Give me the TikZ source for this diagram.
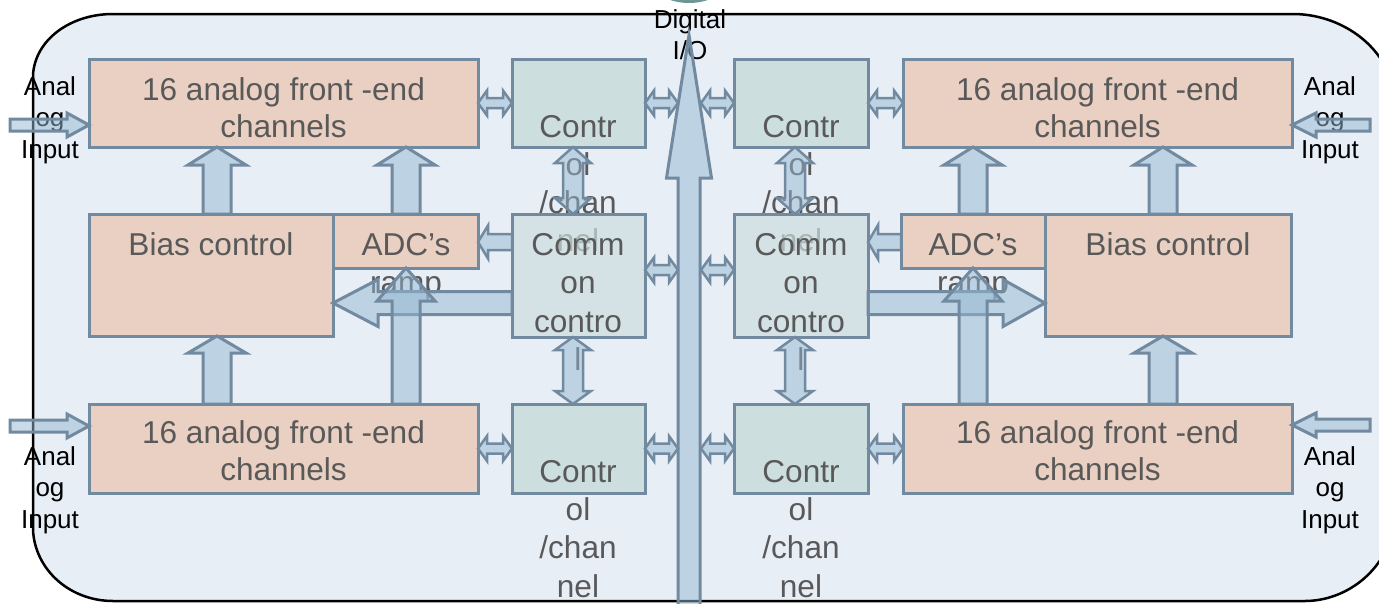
\documentclass[tikz,border=0pt]{standalone}
\usepackage{fontspec}
\setmainfont{Liberation Sans}
\usetikzlibrary{calc}
\definecolor{bgc}{RGB}{232,238,246}
\definecolor{edgec}{RGB}{114,138,160}
\definecolor{afec}{RGB}{233,208,194}
\definecolor{ctrlc}{RGB}{204,222,222}
\definecolor{arrc}{RGB}{147,183,209}
\definecolor{txtc}{RGB}{89,89,89}
\definecolor{dotc}{RGB}{110,150,150}
\tikzset{
 box/.style={draw=edgec, line width=3pt, anchor=north west, inner sep=0pt, outer sep=0pt},
 afe/.style={box, fill=afec},
 ctrl/.style={box, fill=ctrlc},
 btxt/.style={anchor=base, inner sep=0pt, text=txtc, font=\fontsize{31.6}{38}\selectfont},
 lbl/.style={anchor=base, inner sep=0pt, text=black, font=\fontsize{26}{31}\selectfont},
 barrow/.style={draw=edgec, line width=3pt, fill=arrc, fill opacity=0.5, line join=miter},
 sarrow/.style={barrow, line width=2.5pt},
}
% single block arrow: [opts]{tail}{tip}{shaft half}{head half}{head length}
\newcommand\blockarrow[6][]{%
 \coordinate (qT) at (#2); \coordinate (qH) at (#3);
 \coordinate (qC) at ($(qH)!#6!(qT)$);
 \draw[barrow,#1] ($(qT)!#4!90:(qH)$) -- ($(qC)!#4!90:(qH)$) -- ($(qC)!#5!90:(qH)$) -- (qH)
   -- ($(qC)!#5!-90:(qH)$) -- ($(qC)!#4!-90:(qH)$) -- ($(qT)!#4!-90:(qH)$) -- cycle;}
% double block arrow
\newcommand\dblockarrow[6][]{%
 \coordinate (qT) at (#2); \coordinate (qH) at (#3);
 \coordinate (qC) at ($(qH)!#6!(qT)$);
 \coordinate (qD) at ($(qT)!#6!(qH)$);
 \draw[sarrow,#1] (qT) -- ($(qD)!#5!90:(qH)$) -- ($(qD)!#4!90:(qH)$) -- ($(qC)!#4!90:(qH)$)
   -- ($(qC)!#5!90:(qH)$) -- (qH) -- ($(qC)!#5!-90:(qH)$) -- ($(qC)!#4!-90:(qH)$)
   -- ($(qD)!#4!-90:(qH)$) -- ($(qD)!#5!-90:(qH)$) -- cycle;}
\begin{document}
\begin{tikzpicture}[x=1pt,y=-1pt]
\useasboundingbox (0,0) rectangle (1379,603);
% container
\draw[black, line width=2.5pt, fill=bgc]
 (113,14) -- (1293,14) .. controls (1340,14) and (1386,45) .. (1394,92)
 -- (1394,525) .. controls (1386,572) and (1345,601) .. (1305,601)
 -- (113,601) .. controls (70,601) and (35,570) .. (33,530)
 -- (33,75) .. controls (35,40) and (70,14) .. (113,14) -- cycle;
\fill[dotc] (689,-57) circle (60);
% top control boxes and their text
\node[ctrl, minimum width=133pt, minimum height=88pt] (ctlTL) at (512,59) {};
\node[ctrl, minimum width=134pt, minimum height=88pt] (ctlTR) at (734,59) {};
\foreach \cx/\nm in {578/L,801/R}{
 \node[btxt] (ctT\nm1) at (\cx,137) {Contr};
 \node[btxt] (ctT\nm2) at (\cx,175) {ol};
 \node[btxt] (ctT\nm3) at (\cx,213) {/chan};
 \node[btxt] (ctT\nm4) at (\cx,251) {nel};
}
% common control
\node[ctrl, fill opacity=0.7, minimum width=133pt, minimum height=123pt] (comL) at (512,214) {};
\node[ctrl, fill opacity=0.7, minimum width=134pt, minimum height=123pt] (comR) at (734,214) {};
\foreach \cx/\nm in {578/L,801/R}{
 \node[btxt] (cmT\nm1) at (\cx,255) {Comm};
 \node[btxt] (cmT\nm2) at (\cx,293) {on};
 \node[btxt] (cmT\nm3) at (\cx,332) {contro};
 \node[btxt] (cmT\nm4) at (\cx,370) {l};
}
% bottom control boxes
\node[ctrl, minimum width=133pt, minimum height=89pt] (ctlBL) at (512,404) {};
\node[ctrl, minimum width=134pt, minimum height=89pt] (ctlBR) at (734,404) {};
\foreach \cx/\nm in {578/L,801/R}{
 \node[btxt] (cbT\nm1) at (\cx,482) {Contr};
 \node[btxt] (cbT\nm2) at (\cx,520) {ol};
 \node[btxt] (cbT\nm3) at (\cx,558) {/chan};
 \node[btxt] (cbT\nm4) at (\cx,597) {nel};
}
% analog front ends
\node[afe, minimum width=389pt, minimum height=88pt] (afeTL) at (89,59) {};
\node[afe, minimum width=389pt, minimum height=88pt] (afeTR) at (903,59) {};
\node[afe, minimum width=389pt, minimum height=89pt] (afeBL) at (89,404) {};
\node[afe, minimum width=389pt, minimum height=89pt] (afeBR) at (903,404) {};
\foreach \cx/\cy/\nm in {283.5/100/TL,1097.5/100/TR,283.5/443/BL,1097.5/443/BR}{
 \node[btxt] (at\nm1) at (\cx,\cy) {16 analog front -end};
 \node[btxt] (at\nm2) at (\cx,\cy+37) {channels};
}
% bias and ADC
\node[afe, minimum width=244pt, minimum height=122pt] (biasL) at (89,214) {};
\node[afe, minimum width=246pt, minimum height=122pt] (biasR) at (1045,214) {};
\node[afe, minimum width=145pt, minimum height=54pt] (adcL) at (333,214) {};
\node[afe, minimum width=144pt, minimum height=54pt] (adcR) at (901,214) {};
\node[btxt] (bsTL) at (211,255) {Bias control};
\node[btxt] (bsTR) at (1168,255) {Bias control};
\node[btxt] (adTL1) at (406,255) {ADC’s};
\node[btxt] (adTL2) at (406,293) {ramp};
\node[btxt] (adTR1) at (973,255) {ADC’s};
\node[btxt] (adTR2) at (973,293) {ramp};
% labels
\foreach \cx/\cy/\nm in {50/95/TL,1330/95/TR,50/465/BL,1330/465/BR}{
 \node[lbl] (lb\nm1) at (\cx,\cy) {Anal};
 \node[lbl] (lb\nm2) at (\cx,\cy+31.5) {og};
 \node[lbl] (lb\nm3) at (\cx,\cy+63) {Input};
}
\node[lbl] (dio1) at (690,28) {Digital};
\node[lbl] (dio2) at (690,59) {I/O};
% free ends
\coordinate (busB) at (689,612);
\coordinate (busT) at (689,35);
\coordinate (inTL) at (10,125);
\coordinate (inBL) at (10,426);
\coordinate (inTR) at (1370,125);
\coordinate (inBR) at (1370,425);
% input arrows
\blockarrow{inTL}{[yshift=-22pt]afeTL.west}{6pt}{12pt}{22pt}
\blockarrow{inBL}{[yshift=22.5pt]afeBL.west}{6pt}{12pt}{22pt}
\blockarrow{inTR}{[yshift=-22pt]afeTR.east}{6pt}{12pt}{24pt}
\blockarrow{inBR}{[yshift=23.5pt]afeBR.east}{6pt}{12pt}{24pt}
% up arrows to top AFEs
\blockarrow{[xshift=128pt]biasL.north west}{[xshift=128pt]afeTL.south west}{14pt}{29pt}{18pt}
\blockarrow{[xshift=73pt]adcL.north west}{[xshift=317pt]afeTL.south west}{14pt}{29pt}{18pt}
\blockarrow{[xshift=72pt]adcR.north west}{[xshift=70pt]afeTR.south west}{14pt}{29pt}{18pt}
\blockarrow{[xshift=118pt]biasR.north west}{[xshift=260pt]afeTR.south west}{14pt}{29pt}{18pt}
% big horizontal arrows from common control to bias
\blockarrow{[yshift=-89pt]comL.north west}{[yshift=-89pt]biasL.north east}{11.5pt}{23.5pt}{45pt}
\blockarrow{[yshift=-89pt]comR.north east}{[yshift=-89pt]biasR.north west}{11.5pt}{23.5pt}{42pt}
% up arrows from bottom AFEs
\blockarrow{[xshift=128pt]afeBL.north west}{[xshift=128pt]biasL.south west}{14pt}{29pt}{17pt}
\blockarrow{[xshift=317pt]afeBL.north west}{[xshift=73pt]adcL.south west}{14pt}{29pt}{33pt}
\blockarrow{[xshift=70pt]afeBR.north west}{[xshift=72pt]adcR.south west}{14pt}{29pt}{33pt}
\blockarrow{[xshift=260pt]afeBR.north west}{[xshift=118pt]biasR.south west}{14pt}{29pt}{17pt}
% small arrows between common control and ADC
\blockarrow[line width=2.5pt]{[yshift=-28pt]comL.north west}{[yshift=-28pt]adcL.north east}{8pt}{16.5pt}{10pt}
\blockarrow[line width=2.5pt]{[yshift=-28pt]adcR.north west}{[yshift=-28pt]comR.north east}{8pt}{17pt}{10pt}
% double arrows, top row
\dblockarrow{afeTL.east}{ctlTL.west}{5pt}{12.5pt}{9pt}
\dblockarrow{ctlTL.east}{$(ctlTL.east -| busB)-(11,0)$}{5pt}{12.5pt}{9pt}
\dblockarrow{$(ctlTR.west -| busB)+(12,0)$}{ctlTR.west}{5pt}{12.5pt}{9pt}
\dblockarrow{ctlTR.east}{afeTR.west}{5pt}{12.5pt}{9pt}
% double arrows, middle row
\dblockarrow{[yshift=5.5pt]comL.east}{$([yshift=5.5pt]comL.east -| busB)-(11,0)$}{5pt}{12.5pt}{9pt}
\dblockarrow{$([yshift=5.5pt]comR.west -| busB)+(12,0)$}{[yshift=5.5pt]comR.west}{5pt}{12.5pt}{9pt}
% double arrows, bottom row
\dblockarrow{afeBL.east}{ctlBL.west}{5pt}{12.5pt}{9pt}
\dblockarrow{ctlBL.east}{$(ctlBL.east -| busB)-(11,0)$}{5pt}{12.5pt}{9pt}
\dblockarrow{$(ctlBR.west -| busB)+(12,0)$}{ctlBR.west}{5pt}{12.5pt}{9pt}
\dblockarrow{ctlBR.east}{afeBR.west}{5pt}{12.5pt}{9pt}
% vertical double arrows
\dblockarrow{[xshift=61pt]ctlTL.south west}{[xshift=61pt]comL.north west}{10pt}{18pt}{16pt}
\dblockarrow{[xshift=61pt]ctlTR.south west}{[xshift=61pt]comR.north west}{10pt}{18pt}{16pt}
\dblockarrow{[xshift=61pt]comL.south west}{[xshift=61pt]ctlBL.north west}{10pt}{18pt}{13pt}
\dblockarrow{[xshift=61pt]comR.south west}{[xshift=61pt]ctlBR.north west}{10pt}{18pt}{13pt}
% digital I/O bus
\blockarrow{busB}{busT}{11pt}{22.5pt}{143pt}
\end{tikzpicture}
\end{document}
